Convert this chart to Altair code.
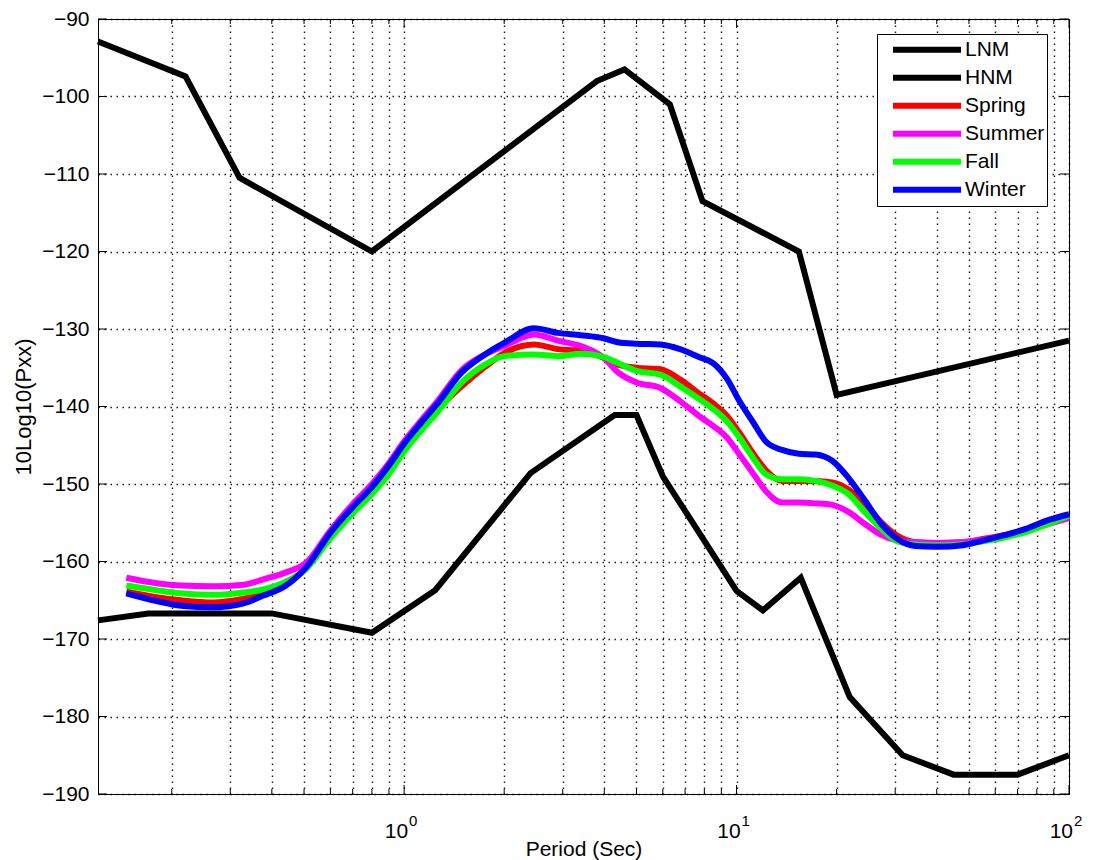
import altair as alt
import pandas as pd

# ---------------- data ----------------
PERIODS = [0.146, 0.18, 0.213, 0.267, 0.329, 0.377, 0.441, 0.506, 0.6, 0.7, 0.8, 0.9,
           1.0, 1.13, 1.25, 1.49, 1.75, 2.0, 2.46, 2.9, 3.4, 3.98, 4.4, 5.0, 5.9, 6.76,
           7.7, 8.5, 9.35, 10.2, 11.2, 12.3, 13.7, 15.4, 17.3, 19.4, 21.7, 24.4, 27.3,
           30.5, 34.5, 40, 48, 55, 64, 74, 86, 100]

SPRING = [-163.9, -164.6, -165.0, -165.3, -164.8, -164.2, -162.9, -160.9, -156.6, -153.4,
          -150.8, -148.2, -145.3, -142.6, -140.5, -137.4, -134.9, -133.1, -132.0, -132.6,
          -132.8, -133.7, -134.6, -135.0, -135.2, -136.5, -138.3, -139.6, -141.2, -143.4,
          -146.0, -148.3, -149.6, -149.6, -149.6, -149.8, -150.7, -152.6, -155.0, -156.7,
          -157.5, -157.6, -157.5, -157.1, -156.6, -156.0, -155.0, -154.1]

SUMMER = [-162.1, -162.8, -163.1, -163.2, -163.0, -162.3, -161.4, -160.2, -156.0, -152.6,
          -150.0, -147.3, -144.5, -141.7, -139.5, -135.3, -133.3, -132.2, -130.7, -131.5,
          -132.2, -133.7, -135.6, -136.9, -137.6, -139.3, -141.2, -142.5, -144.0, -146.2,
          -148.6, -151.0, -152.4, -152.4, -152.5, -152.7, -153.6, -155.2, -156.6, -157.3,
          -157.5, -157.6, -157.5, -157.2, -156.6, -156.0, -155.2, -154.4]

FALL = [-163.1, -163.7, -164.1, -164.3, -164.0, -163.6, -162.6, -161.0, -157.0, -153.8,
        -151.3, -148.7, -145.8, -143.0, -140.9, -136.9, -134.6, -133.5, -133.3, -133.5,
        -133.2, -133.6, -134.4, -135.4, -135.9, -137.4, -139.0, -140.3, -141.9, -144.0,
        -146.6, -148.8, -149.4, -149.4, -149.6, -150.2, -151.3, -153.7, -155.8, -157.4,
        -157.8, -157.9, -157.8, -157.4, -156.9, -156.2, -155.2, -154.1]

WINTER = [-164.1, -165.1, -165.7, -165.9, -165.4, -164.4, -163.1, -160.8, -156.3, -153.0,
          -150.4, -147.6, -144.8, -142.0, -139.8, -135.6, -133.3, -131.8, -129.9, -130.5,
          -130.8, -131.2, -131.7, -131.9, -132.0, -132.6, -133.6, -134.4, -136.4, -139.3,
          -142.0, -144.6, -145.6, -146.1, -146.2, -147.0, -149.2, -152.2, -155.2, -157.1,
          -158.0, -158.1, -157.9, -157.3, -156.6, -155.8, -154.7, -153.9]

HNM_PERIODS = [0.12, 0.22, 0.32, 0.8, 3.8, 4.6, 6.3, 7.9, 15.4, 20, 100]
HNM_DB = [-92.9, -97.4, -110.5, -120.0, -98.0, -96.5, -101.0, -113.5, -120.0, -138.5, -131.5]

LNM_PERIODS = [0.12, 0.17, 0.4, 0.8, 1.24, 2.4, 4.3, 5.0, 6.0, 10, 12, 15.6, 21.9, 31.6,
               45, 70, 100]
LNM_DB = [-167.6, -166.7, -166.7, -169.2, -163.7, -148.6, -141.1, -141.1, -149.0, -163.8,
          -166.3, -162.1, -177.5, -185.0, -187.5, -187.5, -185.0]

SERIES = ["LNM", "HNM", "Spring", "Summer", "Fall", "Winter"]
COLORS = ["#000000", "#000000", "#ff0000", "#ff00ff", "#00ff00", "#0000ff"]
WIDTHS = [6, 6, 3.5, 3.5, 3.5, 3.5]

X_DOMAIN = [0.12, 100]
Y_TICKS = [-190, -180, -170, -160, -150, -140, -130, -120, -110, -100, -90]
X_MAJOR = [1, 10, 100]
X_MINOR = [0.2, 0.3, 0.4, 0.5, 0.6, 0.7, 0.8, 0.9,
           2, 3, 4, 5, 6, 7, 8, 9,
           20, 30, 40, 50, 60, 70, 80, 90]
X_LABEL_AT = [1, 10, 100]
X_LABEL_BASE = ["10", "10", "10"]
X_LABEL_EXP = ["0", "1", "2"]

# ---------------- tables ----------------
rows = []
for name, ps, vs in [("LNM", LNM_PERIODS, LNM_DB), ("HNM", HNM_PERIODS, HNM_DB),
                     ("Spring", PERIODS, SPRING), ("Summer", PERIODS, SUMMER),
                     ("Fall", PERIODS, FALL), ("Winter", PERIODS, WINTER)]:
    for p, v in zip(ps, vs):
        rows.append({"series": name, "period": p, "db": v})
df = pd.DataFrame(rows)

ytick_df = pd.DataFrame({"v": Y_TICKS})
xmaj_df = pd.DataFrame({"p": X_MAJOR})
xmin_df = pd.DataFrame({"p": X_MINOR})
xlab_df = pd.DataFrame({"p": X_LABEL_AT, "base": X_LABEL_BASE, "exp": X_LABEL_EXP})

W, H = 971, 775
FONT = "Liberation Sans"

xs = alt.Scale(type="log", domain=X_DOMAIN, nice=False)
ys = alt.Scale(domain=[-190, -90], nice=False, zero=False)

legend = alt.Legend(
    title=None, orient="none", legendX=779, legendY=15,
    symbolType="stroke", symbolSize=4624, clipHeight=27.3,
    symbolOffset=11, labelOffset=1, padding=2, rowPadding=0,
    fillColor="white", strokeColor="black",
    labelFontSize=21, labelFont=FONT, labelColor="black",
)

x_axis = alt.Axis(values=X_MAJOR + X_MINOR, grid=True, labels=False, ticks=False,
                  tickSize=0, title="Period (Sec)", titleY=55, titleBaseline="middle",
                  titleFontSize=21, titleFont=FONT, titleFontWeight="normal",
                  titleColor="black")
y_axis = alt.Axis(values=Y_TICKS, grid=True, ticks=False, tickSize=0, labelPadding=9,
                  labelFontSize=21, labelFont=FONT, labelColor="black",
                  title="10Log10(Pxx)", titleX=-75, titleY=H / 2, titleAngle=270,
                  titleAlign="center", titleBaseline="middle",
                  titleFontSize=22, titleFont=FONT, titleFontWeight="normal",
                  titleColor="black")

X_ENC = dict(scale=xs, axis=x_axis)
Y_ENC = dict(scale=ys, axis=y_axis)

layers = []
for s in SERIES:
    interp = "linear" if s in ("LNM", "HNM") else "monotone"
    layers.append(
        alt.Chart(df).transform_filter(alt.datum.series == s).mark_line(
            strokeJoin="miter", strokeCap="butt", interpolate=interp
        ).encode(
            x=alt.X("period:Q", **X_ENC),
            y=alt.Y("db:Q", **Y_ENC),
            color=alt.Color("series:N", scale=alt.Scale(domain=SERIES, range=COLORS),
                            legend=legend),
            strokeWidth=alt.StrokeWidth("series:N",
                                        scale=alt.Scale(domain=SERIES, range=WIDTHS),
                                        legend=legend),
        )
    )

TL, TM = 9, 5
tick_left = alt.Chart(ytick_df).mark_rule(color="black", strokeWidth=1).encode(
    y=alt.Y("v:Q", **Y_ENC), x=alt.value(0), x2=alt.value(TL))
tick_right = alt.Chart(ytick_df).mark_rule(color="black", strokeWidth=1).encode(
    y=alt.Y("v:Q", **Y_ENC), x=alt.value(W - TL), x2=alt.value(W))
tick_bot = alt.Chart(xmaj_df).mark_rule(color="black", strokeWidth=1).encode(
    x=alt.X("p:Q", **X_ENC), y=alt.value(H - TL), y2=alt.value(H))
tick_top = alt.Chart(xmaj_df).mark_rule(color="black", strokeWidth=1).encode(
    x=alt.X("p:Q", **X_ENC), y=alt.value(0), y2=alt.value(TL))
mtick_bot = alt.Chart(xmin_df).mark_rule(color="black", strokeWidth=1).encode(
    x=alt.X("p:Q", **X_ENC), y=alt.value(H - TM), y2=alt.value(H))
mtick_top = alt.Chart(xmin_df).mark_rule(color="black", strokeWidth=1).encode(
    x=alt.X("p:Q", **X_ENC), y=alt.value(0), y2=alt.value(TM))

lab_base = alt.Chart(xlab_df).mark_text(
    font=FONT, fontSize=21, color="black", align="right", baseline="middle", dx=4
).encode(x=alt.X("p:Q", **X_ENC), y=alt.value(H + 38), text="base:N")
lab_exp = alt.Chart(xlab_df).mark_text(
    font=FONT, fontSize=15, color="black", align="left", baseline="middle", dx=5
).encode(x=alt.X("p:Q", **X_ENC), y=alt.value(H + 27), text="exp:N")

chart = alt.layer(
    *layers,
    tick_left, tick_right, tick_bot, tick_top, mtick_bot, mtick_top,
    lab_base, lab_exp
).properties(
    width=W, height=H,
    autosize=alt.AutoSizeParams(type="none"),
    padding={"left": 90, "top": 11, "right": 16, "bottom": 66},
    background="white",
).configure_view(
    stroke="black", strokeWidth=1
).configure_axis(
    domainColor="black", domainWidth=1,
    gridColor="#000000", gridDash=[1.5, 4.5], gridWidth=1.4, gridOpacity=0.9,
)

chart.save("out.html", embed_options={"renderer": "svg", "actions": False})
